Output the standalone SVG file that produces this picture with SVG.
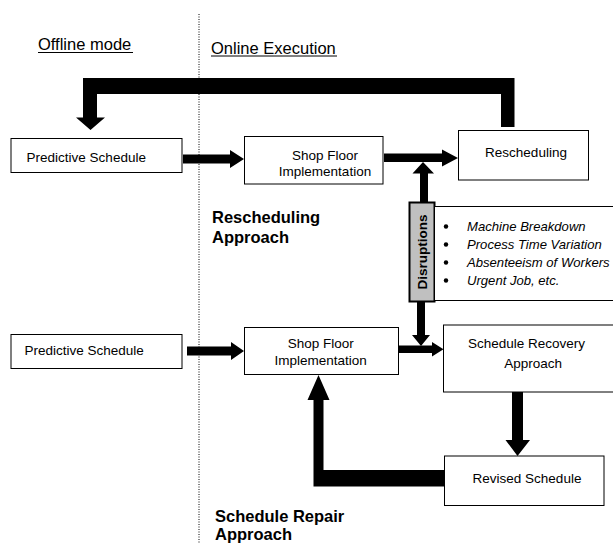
<svg xmlns="http://www.w3.org/2000/svg" width="613" height="544" viewBox="0 0 613 544">
<style>
  text { font-family: "Liberation Sans", Arial, sans-serif; fill: #000; }
  .box { fill: #fff; stroke: #000; stroke-width: 1; }
  .lbl { font-size: 13.5px; }
  .mid { text-anchor: middle; }
  .head { font-size: 16.5px; }
  .title { font-size: 16.5px; font-weight: bold; }
  .item { font-size: 13.1px; font-style: italic; }
  .arrow { fill: #000; stroke: none; }
</style>
<rect width="613" height="544" fill="#fff"/>
<line x1="199" y1="14" x2="199" y2="544" stroke="#000" stroke-width="1" stroke-dasharray="1,1.5"/>
<g id="labels">
  <text class="head" x="38" y="50">Offline mode</text>
  <line x1="38" y1="52.5" x2="133" y2="52.5" stroke="#000" stroke-width="1"/>
  <text class="head" x="211" y="53.5">Online Execution</text>
  <line x1="211" y1="56" x2="337" y2="56" stroke="#000" stroke-width="1"/>
  <text class="title" x="212" y="223">Rescheduling</text>
  <text class="title" x="212" y="242.5">Approach</text>
  <text class="title" x="215" y="521.5">Schedule Repair</text>
  <text class="title" x="215" y="539.5">Approach</text>
</g>
<g id="connectors">
  <path class="arrow" d="M501,127 L514.5,127 L514.5,78 L83,78 L83,117.5 L76,117.5 L90.5,130 L105,117.5 L97,117.5 L97,94 L501,94 Z"/>
  <path class="arrow" d="M183,154.5 L230,154.5 L230,150 L244,159 L230,168 L230,163.5 L183,163.5 Z"/>
  <path class="arrow" d="M384,153.5 L442,153.5 L442,149.5 L458,158 L442,166.5 L442,162 L384,162 Z"/>
  <path class="arrow" d="M420,202.5 L420,173.5 L412.5,173.5 L423,162 L434,173.5 L428,173.5 L428,202.5 Z"/>
  <path class="arrow" d="M417,301.5 L417,335 L412,335 L421,346 L430,335 L425,335 L425,301.5 Z"/>
  <path class="arrow" d="M187,346.5 L231,346.5 L231,342 L244,351 L231,360 L231,355.5 L187,355.5 Z"/>
  <path class="arrow" d="M398.7,345.5 L432,345.5 L432,342 L443.5,349.3 L432,356.5 L432,353 L398.7,353 Z"/>
  <path class="arrow" d="M512,392 L512,440 L505.5,440 L517.5,456 L530,440 L523,440 L523,392 Z"/>
  <path class="arrow" d="M444.5,470 L323.5,470 L323.5,400 L329.5,400 L318.5,375 L307.5,400 L313.5,400 L313.5,486.5 L444.5,486.5 Z"/>
</g>
<g id="pred1">
  <rect class="box" x="11" y="138.5" width="171" height="34"/>
  <text class="lbl" x="26.6" y="161.5">Predictive Schedule</text>
</g>
<g id="shop1">
  <rect class="box" x="244.5" y="136.5" width="138.5" height="47.5"/>
  <text class="lbl mid" x="325" y="159.5">Shop Floor</text>
  <text class="lbl mid" x="325" y="176">Implementation</text>
</g>
<g id="rescheduling">
  <rect class="box" x="458.5" y="130.5" width="130" height="49.5"/>
  <text class="lbl mid" x="526" y="157">Rescheduling</text>
</g>
<g id="disruptions">
  <rect x="409.5" y="202.5" width="25" height="99" fill="#c0c0c0" stroke="#000" stroke-width="2"/>
  <text x="426.5" y="252" text-anchor="middle" font-size="13.5" font-weight="bold" transform="rotate(-90 426.5 252)">Disruptions</text>
</g>
<g id="disruption-list">
  <rect class="box" x="434.5" y="206.5" width="200" height="94"/>
  <circle cx="446" cy="226.5" r="2.2"/>
  <circle cx="446" cy="244.5" r="2.2"/>
  <circle cx="446" cy="262.5" r="2.2"/>
  <circle cx="446" cy="280.5" r="2.2"/>
  <text class="item" x="467" y="231">Machine Breakdown</text>
  <text class="item" x="467" y="249">Process Time Variation</text>
  <text class="item" x="467" y="267">Absenteeism of Workers</text>
  <text class="item" x="467" y="285">Urgent Job, etc.</text>
</g>
<g id="pred2">
  <rect class="box" x="11" y="334.5" width="171" height="34"/>
  <text class="lbl" x="24.5" y="355">Predictive Schedule</text>
</g>
<g id="shop2">
  <rect class="box" x="244.5" y="327.5" width="154" height="47"/>
  <text class="lbl mid" x="320.7" y="348.3">Shop Floor</text>
  <text class="lbl mid" x="320.7" y="365">Implementation</text>
</g>
<g id="recovery">
  <rect class="box" x="443.5" y="325" width="180" height="67"/>
  <text class="lbl" x="468" y="348.3">Schedule Recovery</text>
  <text class="lbl" x="504.3" y="368.3">Approach</text>
</g>
<g id="revised">
  <rect class="box" x="444.5" y="456" width="159.5" height="49.5"/>
  <text class="lbl mid" x="527" y="482.7">Revised Schedule</text>
</g>
</svg>
